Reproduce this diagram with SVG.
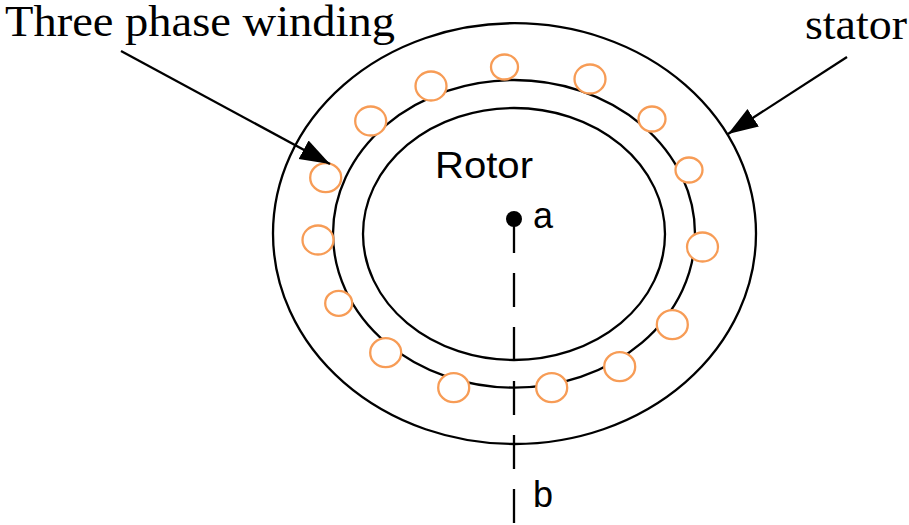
<svg xmlns="http://www.w3.org/2000/svg" width="909" height="525" viewBox="0 0 909 525">
<defs><style>
.l{fill:none;stroke:#000;stroke-width:2.300}
.c{fill:#fff;stroke:#f79c56;stroke-width:2.300}
.s{font-family:"Liberation Serif",serif;font-size:45px;fill:#000}
.a{font-family:"Liberation Sans",sans-serif;font-size:36px;fill:#000}
</style>
<marker id="ah" markerUnits="userSpaceOnUse" markerWidth="32" markerHeight="24" refX="30" refY="11" orient="auto"><path d="M0 0.500L30 11L0 21.500Z" fill="#000"/></marker>
</defs>
<rect width="909" height="525" fill="#fff"/>
<g id="stator"><ellipse class="l" cx="514.500" cy="233.600" rx="241.500" ry="210.400"/><text class="s" x="805" y="39" textLength="102" lengthAdjust="spacingAndGlyphs">stator</text></g>
<g id="stator-inner"><ellipse class="l" cx="514" cy="233.800" rx="181" ry="153.800"/></g>
<g id="rotor"><ellipse class="l" cx="514" cy="234" rx="151" ry="126"/><text class="a" x="435" y="178" textLength="98" lengthAdjust="spacingAndGlyphs">Rotor</text></g>
<g id="winding">
<ellipse class="c" cx="504.500" cy="67" rx="13.500" ry="12.500"/><ellipse class="c" cx="590" cy="79" rx="15.500" ry="14.500"/><ellipse class="c" cx="652" cy="119" rx="13.500" ry="12.500"/><ellipse class="c" cx="689" cy="170" rx="13.500" ry="12.500"/><ellipse class="c" cx="702.500" cy="247" rx="15.500" ry="14.500"/><ellipse class="c" cx="672.300" cy="324.700" rx="15.500" ry="14.500"/><ellipse class="c" cx="619.700" cy="366.700" rx="15.500" ry="14.500"/><ellipse class="c" cx="551.700" cy="387.700" rx="15.500" ry="14.500"/><ellipse class="c" cx="453.700" cy="387.700" rx="15.500" ry="14.500"/><ellipse class="c" cx="385.700" cy="352.700" rx="15.500" ry="14.500"/><ellipse class="c" cx="338.700" cy="303.300" rx="13.500" ry="12.500"/><ellipse class="c" cx="318" cy="240" rx="15.500" ry="14.500"/><ellipse class="c" cx="325.700" cy="177.700" rx="15.500" ry="14.500"/><ellipse class="c" cx="370.700" cy="121" rx="15.500" ry="14.500"/><ellipse class="c" cx="431" cy="86" rx="15.500" ry="14.500"/>
<text class="s" x="5" y="36" textLength="390" lengthAdjust="spacingAndGlyphs">Three phase winding</text></g>
<g id="point-a"><circle cx="514" cy="219" r="8" fill="#000"/><text class="a" x="533" y="228">a</text></g>
<g id="point-b"><text class="a" x="533" y="507">b</text></g>
<g id="connectors">
<path class="l" d="M514 219V523" stroke-dasharray="34 20"/>
<path class="l" d="M121 51L330 164" marker-end="url(#ah)"/>
<path class="l" d="M847 57L728 134" marker-end="url(#ah)"/>
</g>
</svg>
